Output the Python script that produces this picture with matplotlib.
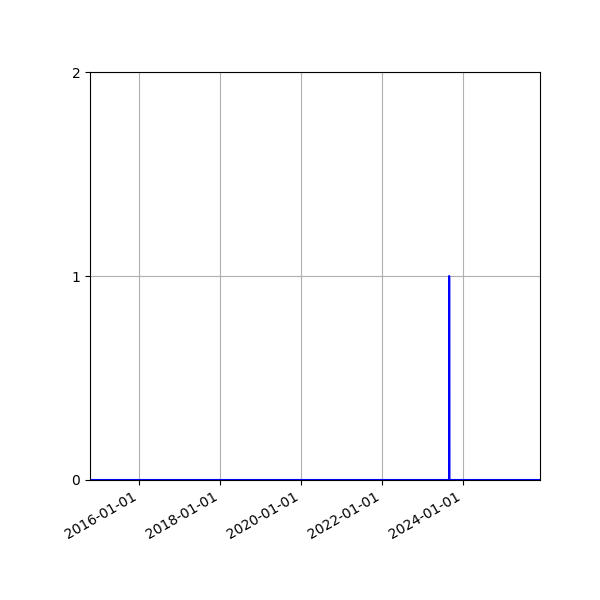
import numpy as np
import pandas as pd
import matplotlib
matplotlib.use('Agg')
import matplotlib.pyplot as plt
import matplotlib.dates as mdates

# daily event counts, zero everywhere except the listed days
start_date = '2014-10-16'
end_date = '2025-11-24'
event_dates = ['2023-08-28']
event_counts = [1]

days = pd.date_range(start_date, end_date, freq='D')
counts = pd.Series(0, index=days)
for d, c in zip(event_dates, event_counts):
    counts[pd.Timestamp(d)] = c

fig, ax = plt.subplots(figsize=(6, 6), dpi=100)
ax.plot(counts.index, counts.values, color='b')
ax.set_xlim(days[0], days[-1])
ax.set_ylim(0, 2)
ax.set_yticks([0, 1, 2])
ax.xaxis.set_major_locator(mdates.YearLocator(2))
ax.xaxis.set_major_formatter(mdates.DateFormatter('%Y-%m-%d'))
ax.grid(True)
fig.autofmt_xdate()
fig.subplots_adjust(left=0.15, right=0.9, top=0.88, bottom=0.2)

fig.savefig('out.png')
